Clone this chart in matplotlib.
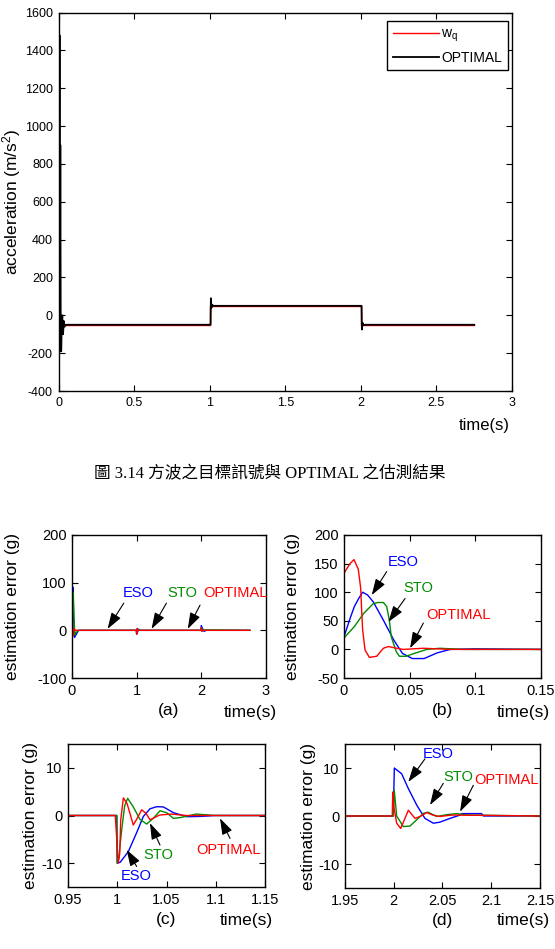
import matplotlib
matplotlib.use('Agg')
import matplotlib.pyplot as plt
from matplotlib.ticker import FuncFormatter

plt.rcParams['font.family'] = ['Liberation Sans', 'DejaVu Sans']
plt.rcParams['axes.unicode_minus'] = False
plt.rcParams['path.simplify'] = False

# ---------------- data: main chart (acceleration) ----------------
wq_t = [0.0, 1.0, 1.0, 2.0, 2.0, 2.75]
wq_v = [-50, -50, 50, 50, -50, -50]

opt_t = [0.000, 0.004, 0.007, 0.009, 0.012, 0.015, 0.018, 0.021, 0.025, 0.030, 0.035, 0.040, 0.050,
         1.000, 1.006, 1.008, 1.012, 1.016, 1.025,
         2.000, 2.005, 2.007, 2.012, 2.018, 2.030, 2.75]
opt_v = [0, 0, 1480, -150, 900, -190, -190, -60, 0, -100, -30, -60, -50,
         -50, -50, 90, 40, 55, 50,
         50, 50, -75, -40, -52, -50, -50]

# ---------------- data: (a) 0 - 3 s ----------------
a_eso_t = [0, 0.005, 0.015, 0.025, 0.04, 0.06, 0.1, 0.995, 1.0, 1.01, 1.03, 1.06,
           1.995, 2.0, 2.01, 2.04, 2.08, 2.75]
a_eso = [0, 40, 90, 30, -15, -10, 0, 0, -8, -5, 2, 0, 0, 10, 6, -2, 0, 0]
a_sto_t = [0, 0.01, 0.02, 0.03, 0.045, 0.06, 0.1, 0.995, 1.0, 1.012, 1.03,
           1.995, 2.0, 2.01, 2.03, 2.75]
a_sto = [0, 50, 80, 28, -10, -5, 0, 0, -8, 4, 0, 0, 5, -2, 1, 0]
a_opt_t = [0, 0.004, 0.008, 0.015, 0.02, 0.035, 0.05, 0.995, 1.0, 1.003, 1.008, 1.02,
           1.995, 2.0, 2.007, 2.02, 2.75]
a_opt = [0, 12, 10, -5, -12, 3, 0, 0, -8, -6, 4, 0, 0, 5, -2, 0, 0]

# ---------------- data: (b) 0 - 0.15 s ----------------
b_eso_t = [0, 0.0046, 0.0079, 0.0112, 0.0142, 0.018, 0.0223, 0.030, 0.038, 0.0445,
           0.052, 0.061, 0.071, 0.081, 0.1, 0.15]
b_eso = [22, 54, 75, 89, 100, 95, 83, 51, 16, -7, -16, -16, -6, 0, 1, 0]
b_sto_t = [0, 0.0079, 0.015, 0.0223, 0.026, 0.030, 0.0325, 0.0345, 0.036, 0.0398,
           0.0422, 0.047, 0.055, 0.063, 0.073, 0.09, 0.15]
b_sto = [20, 40, 63, 80, 82, 82, 75, 51, 22, -4, -12, -12, -6, 0, 2, 0, 0]
b_opt_t = [0, 0.0046, 0.0076, 0.0109, 0.0127, 0.0135, 0.0142, 0.016, 0.0193, 0.0249,
           0.030, 0.0338, 0.0401, 0.0452, 0.0604, 0.0807, 0.15]
b_opt = [133, 150, 157, 140, 107, 66, 34, -1, -14, -12, 2, 5, 2, 0, 2, 0, 0]

# ---------------- data: (c) 0.95 - 1.15 s ----------------
c_eso_t = [0.95, 0.9995, 1.0, 1.003, 1.0112, 1.0197, 1.0265, 1.0332, 1.04, 1.0468,
           1.057, 1.0705, 1.084, 1.1, 1.15]
c_eso = [0, 0, -10, -9.8, -7.6, -3.6, -0.2, 1.4, 1.85, 1.8, 0.6, -0.25, -0.2, 0, 0]
c_sto_t = [0.95, 0.9995, 1.0, 1.0015, 1.0045, 1.0075, 1.0106, 1.0163, 1.0230, 1.0299,
           1.0370, 1.0434, 1.050, 1.057, 1.065, 1.08, 1.10, 1.15]
c_sto = [0, 0, -10, -9, -3, 2, 3.6, 1.8, -0.8, -1.8, -0.5, 1.0, 0.6, -0.6, -0.4, 0.3, 0, 0]
c_opt_t = [0.95, 0.998, 1.001, 1.0025, 1.0035, 1.0062, 1.0100, 1.0163, 1.0205, 1.0248,
           1.0290, 1.0333, 1.043, 1.055, 1.07, 1.15]
c_opt = [0, 0, -10, -8, -1, 3.7, 2.5, -2, -0.5, 1.2, 0.5, -0.9, 0.1, 0.3, 0, 0]

# ---------------- data: (d) 1.95 - 2.15 s ----------------
d_eso_t = [1.95, 1.9995, 2.0006, 2.0081, 2.015, 2.0235, 2.032, 2.0406, 2.047, 2.0577,
           2.068, 2.07, 2.09, 2.092, 2.15]
d_eso = [0, 0, 10, 8.8, 5.7, 2.3, -0.5, -1.5, -1.3, -0.5, 0.2, 0.5, 0.5, 0, 0]
d_sto_t = [1.95, 1.9995, 2.0005, 2.003, 2.0098, 2.0166, 2.0235, 2.0303, 2.035, 2.044,
           2.055, 2.065, 2.075, 2.15]
d_sto = [0, 0, 5.4, 0, -2.2, -2.1, -0.8, 0.55, 0.8, -0.1, 0.3, 0.5, 0.2, 0]
d_opt_t = [1.95, 1.9985, 1.999, 2.0, 2.003, 2.0071, 2.015, 2.0218, 2.027, 2.0338,
           2.040, 2.047, 2.06, 2.15]
d_opt = [0, 0, 5, 2, -1.5, -2.6, 1.2, -0.5, -0.1, 0.7, 0.2, -0.1, 0.2, 0]

main_xticks = [0, 0.5, 1, 1.5, 2, 2.5, 3]
main_yticks = list(range(-400, 1601, 200))

caption = '圖 3.14 方波之目標訊號與 OPTIMAL 之估測結果'

# ---------------- figure ----------------
W, H = 555, 949
fig = plt.figure(figsize=(W / 100, H / 100), dpi=100)


def px_axes(l, t, r, b):
    return fig.add_axes([l / W, 1 - b / H, (r - l) / W, (b - t) / H])


fmt = FuncFormatter(lambda v, p: '%g' % v)

RED = (1.0, 0.0, 0.0)
GREEN = (0.0, 0.55, 0.0)
BLUE = (0.0, 0.0, 1.0)


def style(ax, fs):
    ax.tick_params(direction='in', top=True, right=True, length=4, width=0.8,
                   labelsize=fs, pad=4)
    for s in ax.spines.values():
        s.set_linewidth(1.0)
    ax.xaxis.set_major_formatter(fmt)
    ax.yaxis.set_major_formatter(fmt)


# main
ax = px_axes(58.5, 12.5, 512, 391)
ax.plot(wq_t, wq_v, color=RED, lw=1.0, label=r'$\mathregular{w_q}$')
ax.plot(opt_t, opt_v, color='black', lw=1.3, label='OPTIMAL')
ax.set_xlim(0, 3)
ax.set_ylim(-400, 1600)
ax.set_xticks(main_xticks)
ax.set_yticks(main_yticks)
style(ax, 9)
ax.set_ylabel('acceleration (m/s$\\mathregular{^2}$)', fontsize=12.5)
ax.yaxis.set_label_coords(-0.078, 0.5)
leg = ax.legend(loc='upper right', bbox_to_anchor=(0.991, 0.978), borderaxespad=0,
                fancybox=False, edgecolor='black', framealpha=1, fontsize=10,
                handlelength=3.3, handletextpad=0.2, labelspacing=0.5, borderpad=0.4)
leg.get_frame().set_linewidth(1.0)
fig.text(510 / W, 1 - 425 / H, 'time(s)', ha='right', va='center', fontsize=12)

fig.text(270 / W, 1 - 474 / H, caption, ha='center', va='center', fontsize=12,
         family=['Liberation Serif', 'Noto Sans CJK TC'])


def series(ax, et, e, st, s, ot, o):
    ax.plot(et, e, color=BLUE, lw=1.0)
    ax.plot(st, s, color=GREEN, lw=1.0)
    ax.plot(ot, o, color=RED, lw=1.0)


def note(ax, label, color, txt, tail, head):
    ax.text(txt[0], txt[1], label, color=color, ha='center', va='center', fontsize=10.5)
    ax.annotate('', xy=head, xytext=tail,
                arrowprops=dict(arrowstyle='-|>,head_length=0.9,head_width=0.3',
                                color='black', lw=0.8, shrinkA=0, shrinkB=0,
                                mutation_scale=11))


def small(rect, lab, right_px, y_px, ylab_x):
    a = px_axes(*rect)
    style(a, 10.5)
    a.set_ylabel('estimation error (g)', fontsize=12.5)
    a.yaxis.set_label_coords(ylab_x, 0.5)
    a.set_xlabel(lab, fontsize=12.5, labelpad=4)
    fig.text(right_px / W, 1 - y_px / H, 'time(s)', ha='right', va='center', fontsize=12.5)
    return a


# (a)
axa = small((72, 535, 266, 678), '(a)', 277, 712, -0.27)
series(axa, a_eso_t, a_eso, a_sto_t, a_sto, a_opt_t, a_opt)
axa.set_xlim(0, 3)
axa.set_ylim(-100, 200)
axa.set_xticks([0, 1, 2, 3])
axa.set_yticks([-100, 0, 100, 200])
note(axa, 'ESO', BLUE, (1.02, 78), (0.80, 57), (0.55, 3))
note(axa, 'STO', GREEN, (1.71, 78), (1.46, 57), (1.23, 3))
note(axa, 'OPTIMAL', RED, (2.52, 78), (1.98, 53), (1.79, 3))

# (b)
axb = small((344, 535, 541, 678), '(b)', 550, 712, -0.223)
series(axb, b_eso_t, b_eso, b_sto_t, b_sto, b_opt_t, b_opt)
axb.set_xlim(0, 0.15)
axb.set_ylim(-50, 200)
axb.set_xticks([0, 0.05, 0.1, 0.15])
axb.set_yticks([-50, 0, 50, 100, 150, 200])
note(axb, 'ESO', BLUE, (0.0452, 153), (0.0325, 136), (0.0211, 95))
note(axb, 'STO', GREEN, (0.0566, 107), (0.0465, 89), (0.0338, 48))
note(axb, 'OPTIMAL', RED, (0.087, 61), (0.0604, 46), (0.0503, 2))

# (c)
axc = small((68, 744, 265, 887), '(c)', 273, 920, -0.152)
series(axc, c_eso_t, c_eso, c_sto_t, c_sto, c_opt_t, c_opt)
axc.set_xlim(0.95, 1.15)
axc.set_ylim(-15, 15)
axc.set_xticks([0.95, 1, 1.05, 1.1, 1.15])
axc.set_yticks([-10, 0, 10])
note(axc, 'STO', GREEN, (1.0417, -8.3), (1.0434, -6.2), (1.0332, -1.6))
note(axc, 'ESO', BLUE, (1.0197, -12.6), (1.0197, -10.7), (1.0096, -7.2))
note(axc, 'OPTIMAL', RED, (1.1128, -7.2), (1.1145, -4.8), (1.1043, -0.6))

# (d)
axd = small((345, 744, 540, 888), '(d)', 550, 920, -0.151)
series(axd, d_eso_t, d_eso, d_sto_t, d_sto, d_opt_t, d_opt)
axd.set_xlim(1.95, 2.15)
axd.set_ylim(-15, 15)
axd.set_xticks([1.95, 2, 2.05, 2.1, 2.15])
axd.set_yticks([-10, 0, 10])
note(axd, 'ESO', BLUE, (2.0457, 13), (2.032, 11.9), (2.0149, 7.1))
note(axd, 'STO', GREEN, (2.0662, 8.1), (2.0508, 6.8), (2.0372, 2.3))
note(axd, 'OPTIMAL', RED, (2.1158, 7.6), (2.0816, 6.4), (2.068, 0.9))

fig.savefig('out.png', dpi=100)
